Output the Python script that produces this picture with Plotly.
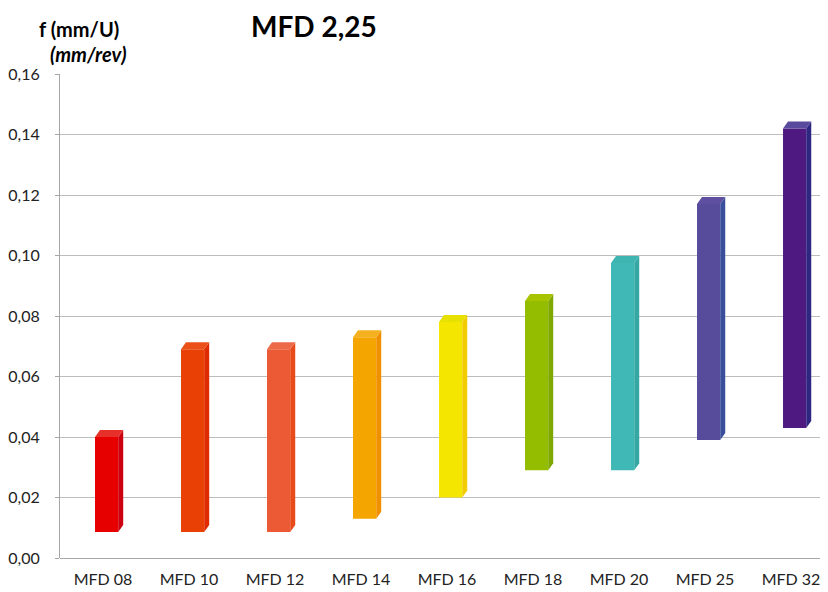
import plotly.graph_objects as go

categories = ["MFD 08", "MFD 10", "MFD 12", "MFD 14", "MFD 16", "MFD 18", "MFD 20", "MFD 25", "MFD 32"]
f_min = [0.0086, 0.0086, 0.0086, 0.013, 0.020, 0.029, 0.029, 0.039, 0.043]
f_max = [0.040, 0.069, 0.069, 0.073, 0.078, 0.085, 0.0975, 0.117, 0.142]
front_colors = ["#E60000", "#E84005", "#EB5A35", "#F5A500", "#F5E600", "#94BD00", "#40B8B5", "#574B9B", "#4E1A82"]
side_colors = ["#CC0010", "#E02A00", "#E84A1A", "#F09000", "#F2CC00", "#7FA800", "#36A8A4", "#3A4F9C", "#2E2680"]
cap_colors = ["#E8302A", "#EA5018", "#EC6A48", "#F5B020", "#E8E000", "#A8C400", "#3FB5B2", "#5F4FA0", "#594A9E"]

pos = list(range(len(categories)))
W = 0.27      # front face width
OFF = -0.093  # front face start relative to category
DX = 0.058    # depth in x
DY = 0.0023   # depth in y

fig = go.Figure()

fig.add_trace(go.Bar(
    x=pos, y=[t - b for t, b in zip(f_max, f_min)], base=f_min,
    width=W, offset=OFF, marker=dict(color=front_colors, line=dict(width=0)),
    hoverinfo="skip", showlegend=False))

for i, p in enumerate(pos):
    x0 = p + OFF
    x1 = x0 + W
    b, t = f_min[i], f_max[i]
    fig.add_trace(go.Scatter(
        x=[x1, x1 + DX, x1 + DX, x1, x1], y=[b, b + DY, t + DY, t, b],
        fill="toself", fillcolor=side_colors[i], mode="none",
        hoverinfo="skip", showlegend=False))
    fig.add_trace(go.Scatter(
        x=[x0, x1, x1 + DX, x0 + DX, x0], y=[t, t, t + DY, t + DY, t],
        fill="toself", fillcolor=cap_colors[i], mode="none",
        hoverinfo="skip", showlegend=False))

FONT = "Lato, 'Open Sans', sans-serif"

fig.update_layout(
    width=820, height=584,
    margin=dict(l=52, r=0, t=66, b=34),
    paper_bgcolor="white", plot_bgcolor="white",
    separators=",.",
    font=dict(family=FONT, size=16, color="#222222"),
    xaxis=dict(range=[-0.5, 8.43], tickmode="array", tickvals=pos, ticktext=categories,
               showgrid=False, zeroline=False, showline=False, ticks="",
               ticklabelstandoff=10,
               tickfont=dict(size=16, color="#222222")),
    yaxis=dict(range=[0, 0.16], tickmode="linear", tick0=0, dtick=0.02, tickformat=".2f",
               showgrid=True, gridcolor="#BDBDBD", gridwidth=1,
               zeroline=True, zerolinecolor="#A6A6A6", zerolinewidth=1,
               showline=True, linecolor="#A6A6A6", linewidth=1,
               ticks="outside", ticklen=4, tickcolor="#A6A6A6",
               ticklabelstandoff=12,
               tickfont=dict(size=16, color="#222222")),
    annotations=[
        dict(text="<b>MFD 2,25</b>", xref="paper", yref="paper", x=0.331, y=1.0992,
             xanchor="center", yanchor="middle", showarrow=False,
             font=dict(family=FONT, size=28, color="#000000")),
        dict(text="<b>f (mm/U)</b>", xref="paper", yref="paper", x=0.0245, y=1.093,
             xanchor="center", yanchor="middle", showarrow=False,
             font=dict(family=FONT, size=20, color="#000000")),
        dict(text="<b><i>(mm/rev)</i></b>", xref="paper", yref="paper", x=0.037, y=1.041,
             xanchor="center", yanchor="middle", showarrow=False,
             font=dict(family=FONT, size=20, color="#000000")),
    ],
)

fig.write_html("out.html")
